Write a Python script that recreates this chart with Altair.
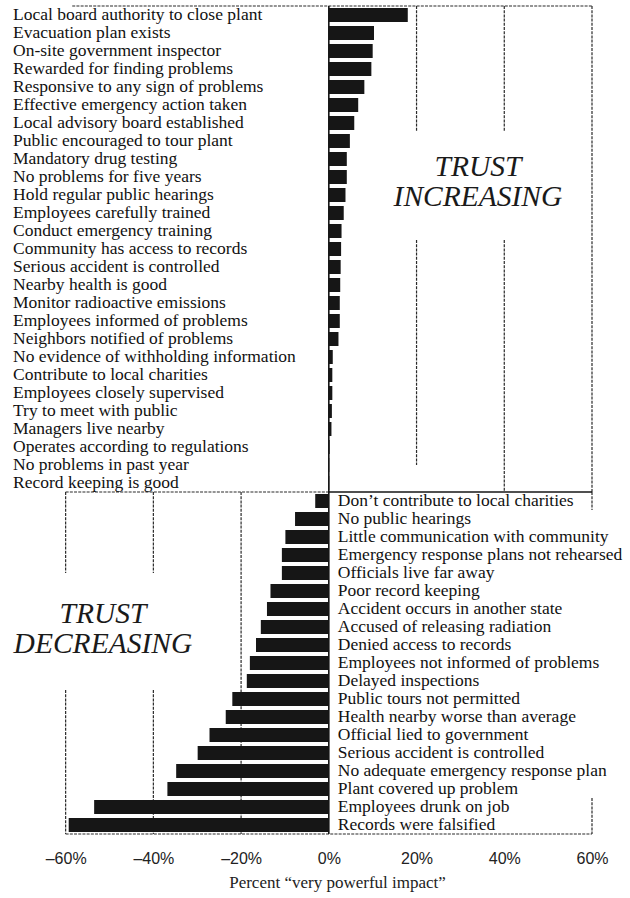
import altair as alt
import pandas as pd

# ---------------- data ----------------
top_labels = [
    "Local board authority to close plant",
    "Evacuation plan exists",
    "On-site government inspector",
    "Rewarded for finding problems",
    "Responsive to any sign of problems",
    "Effective emergency action taken",
    "Local advisory board established",
    "Public encouraged to tour plant",
    "Mandatory drug testing",
    "No problems for five years",
    "Hold regular public hearings",
    "Employees carefully trained",
    "Conduct emergency training",
    "Community has access to records",
    "Serious accident is controlled",
    "Nearby health is good",
    "Monitor radioactive emissions",
    "Employees informed of problems",
    "Neighbors notified of problems",
    "No evidence of withholding information",
    "Contribute to local charities",
    "Employees closely supervised",
    "Try to meet with public",
    "Managers live nearby",
    "Operates according to regulations",
    "No problems in past year",
    "Record keeping is good",
]
top_values = [18.0, 10.3, 10.0, 9.7, 8.1, 6.7, 5.8, 4.8, 4.1, 4.1, 3.8, 3.4, 2.9,
              2.8, 2.7, 2.6, 2.5, 2.5, 2.2, 0.9, 0.8, 0.8, 0.7, 0.6, 0.2, 0.1, 0.1]

bottom_labels = [
    "Don\u2019t contribute to local charities",
    "No public hearings",
    "Little communication with community",
    "Emergency response plans not rehearsed",
    "Officials live far away",
    "Poor record keeping",
    "Accident occurs in another state",
    "Accused of releasing radiation",
    "Denied access to records",
    "Employees not informed of problems",
    "Delayed inspections",
    "Public tours not permitted",
    "Health nearby worse than average",
    "Official lied to government",
    "Serious accident is controlled",
    "No adequate emergency response plan",
    "Plant covered up problem",
    "Employees drunk on job",
    "Records were falsified",
]
bottom_values = [3.1, 7.7, 9.9, 10.7, 10.7, 13.3, 14.1, 15.5, 16.6, 18.0, 18.7,
                 22.0, 23.5, 27.2, 29.9, 34.8, 36.8, 53.5, 59.3]

tick_values = [-60, -40, -20, 0, 20, 40, 60]
x_title = "Percent \u201cvery powerful impact\u201d"
up_text = "TRUST\nINCREASING"
down_text = "TRUST\nDECREASING"

# ---------------- layout constants ----------------
N_TOP = len(top_labels)
N = N_TOP + len(bottom_labels)
STEP = 18
X_MIN, X_MAX = -72, 60
INK = "#161616"
LINE = "#2a2a2a"
SERIF = "Liberation Serif"

rows = []
for i, (l, v) in enumerate(zip(top_labels, top_values)):
    rows.append(dict(label=l, value=v, pos=i, lx=X_MIN, side="top"))
for j, (l, v) in enumerate(zip(bottom_labels, bottom_values)):
    rows.append(dict(label=l, value=-v, pos=N_TOP + j, lx=0, side="bottom"))
df = pd.DataFrame(rows)
df["zero"] = 0
df["y0"] = df["pos"] + 0.11
df["y1"] = df["pos"] + 0.89
df["yc"] = df["pos"] + 0.5

xs = alt.Scale(domain=[X_MIN, X_MAX], nice=False, zero=False)
ys = alt.Scale(domain=[0, N], reverse=True, nice=False, zero=False)

# frame / grid segments (in data units: percent, row index)
vseg_dashed = pd.DataFrame([
    dict(x=60, ya=0, yb=N_TOP),
    dict(x=60, ya=N_TOP, yb=N_TOP + 1),
    dict(x=60, ya=N_TOP + 17, yb=N),
    dict(x=20, ya=0, yb=7), dict(x=20, ya=13, yb=25.5),
    dict(x=40, ya=0, yb=7), dict(x=40, ya=13, yb=N_TOP),
    dict(x=-20, ya=N_TOP, yb=N),
    dict(x=-40, ya=N_TOP, yb=N_TOP + 4.5), dict(x=-40, ya=N_TOP + 11, yb=N),
    dict(x=-60, ya=N_TOP, yb=N_TOP + 4.5), dict(x=-60, ya=N_TOP + 11, yb=N),
])
hseg_dashed = pd.DataFrame([
    dict(y=0, xa=-58.5, xb=60),
    dict(y=N_TOP, xa=-60, xb=0),
    dict(y=N, xa=-60, xb=60),
])
hseg_solid = pd.DataFrame([dict(y=N_TOP, xa=0, xb=60)])
vseg_solid = pd.DataFrame([dict(x=0, ya=0, yb=N)])

annot = pd.DataFrame([
    dict(text=up_text, x=34, pos=8.95),
    dict(text=down_text, x=-51.5, pos=33.78),
])

x_axis = alt.Axis(values=tick_values,
                  labelExpr="(datum.value < 0 ? '\u2013' + abs(datum.value) : datum.value) + '%'",
                  domain=False, ticks=False, grid=False,
                  labelFont="Liberation Sans", labelFontSize=16, labelColor="#222",
                  labelPadding=16, labelFlush=False,
                  title=x_title, titleFont=SERIF, titleFontSize=17,
                  titleFontWeight="normal", titleColor="#222", titlePadding=8,
                  titleX=324)

dash = [3, 1.2]

vd = alt.Chart(vseg_dashed).mark_rule(color=LINE, strokeWidth=1.2, strokeDash=dash).encode(
    x=alt.X("x:Q", scale=xs, axis=x_axis),
    y=alt.Y("ya:Q", scale=ys, axis=None),
    y2="yb:Q",
)
hd = alt.Chart(hseg_dashed).mark_rule(color=LINE, strokeWidth=1.2, strokeDash=dash).encode(
    x=alt.X("xa:Q", scale=xs, axis=x_axis), x2="xb:Q",
    y=alt.Y("y:Q", scale=ys, axis=None),
)
hs = alt.Chart(hseg_solid).mark_rule(color=INK, strokeWidth=1.5).encode(
    x=alt.X("xa:Q", scale=xs, axis=x_axis), x2="xb:Q",
    y=alt.Y("y:Q", scale=ys, axis=None),
)
vs = alt.Chart(vseg_solid).mark_rule(color=INK, strokeWidth=1.6).encode(
    x=alt.X("x:Q", scale=xs, axis=x_axis),
    y=alt.Y("ya:Q", scale=ys, axis=None),
    y2="yb:Q",
)

bars = alt.Chart(df).mark_rect(color=INK).encode(
    x=alt.X("value:Q", scale=xs, axis=x_axis), x2="zero:Q",
    y=alt.Y("y0:Q", scale=ys, axis=None), y2="y1:Q",
)

top_text = alt.Chart(df[df.side == "top"]).mark_text(
    font=SERIF, fontSize=17.5, color="#111", align="left", baseline="middle"
).encode(
    x=alt.X("lx:Q", scale=xs, axis=x_axis),
    y=alt.Y("yc:Q", scale=ys, axis=None),
    text="label:N",
)
bot_text = alt.Chart(df[df.side == "bottom"]).mark_text(
    font=SERIF, fontSize=17.5, color="#111", align="left", baseline="middle", dx=9
).encode(
    x=alt.X("lx:Q", scale=xs, axis=x_axis),
    y=alt.Y("yc:Q", scale=ys, axis=None),
    text="label:N",
)

ann = alt.Chart(annot).mark_text(
    font=SERIF, fontStyle="italic", fontSize=29.5, color="#1a1a1a",
    align="center", baseline="middle", lineBreak="\n", lineHeight=30
).encode(
    x=alt.X("x:Q", scale=xs, axis=x_axis),
    y=alt.Y("pos:Q", scale=ys, axis=None),
    text="text:N",
)

chart = alt.layer(vd, hd, hs, vs, bars, top_text, bot_text, ann).properties(
    width=579, height=N * STEP,
    padding={"left": 13, "top": 6, "right": 38, "bottom": 64},
    autosize=alt.AutoSizeParams(type="none"),
    background="white",
).configure_view(stroke=None)

chart.save("out.html", embed_options={"renderer": "svg", "actions": False})
